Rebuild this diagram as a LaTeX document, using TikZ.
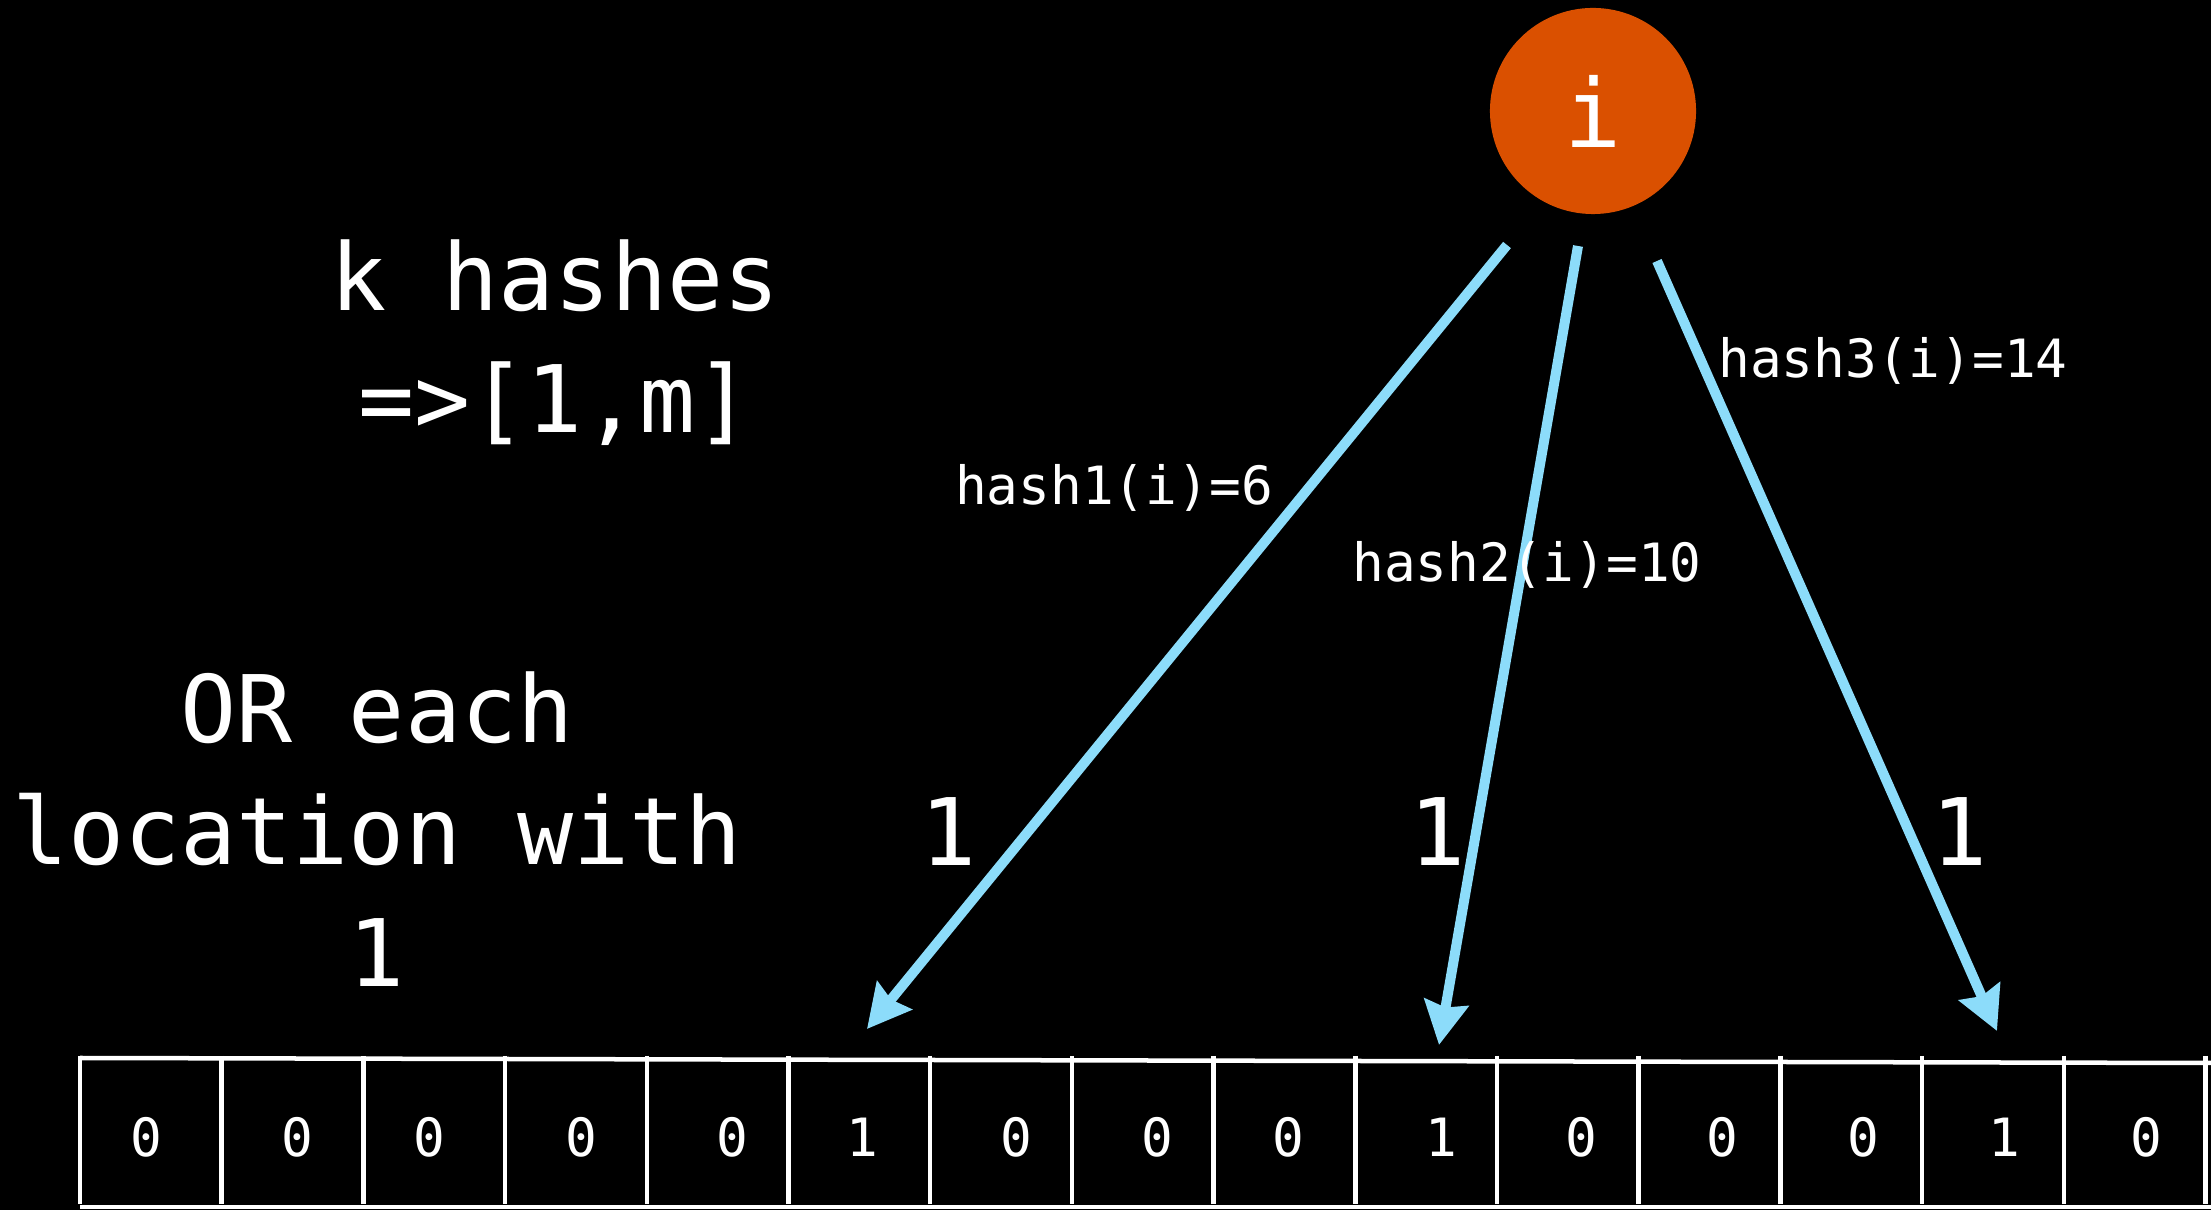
\documentclass[tikz,border=0pt]{standalone}
\usepackage{fontspec}
\setmonofont{DejaVu Sans Mono}
\usetikzlibrary{arrows.meta}
\definecolor{nodeorange}{RGB}{218,80,0}
\definecolor{arrowblue}{RGB}{140,220,250}
\begin{document}
\begin{tikzpicture}[x=0.01cm,y=-0.01cm,
  bigtext/.style={text=white,font=\ttfamily\fontsize{26.5}{34.8}\selectfont,inner sep=0pt},
  smalltext/.style={text=white,font=\ttfamily\fontsize{15}{18}\selectfont,inner sep=0pt},
  hasharrow/.style={draw=arrowblue,line width=0.1cm,-{Stealth[length=0.43cm,width=0.44cm,inset=0.05cm]}},
  gridline/.style={draw=white,line width=0.045cm}]
\fill[black] (0,0) rectangle (2211,1210);
\useasboundingbox (0,0) rectangle (2211,1210);

% item node
\node[circle,fill=nodeorange,minimum size=2.06cm,inner sep=0pt,text=white,
      font=\ttfamily\fontsize{27}{30}\selectfont] (item) at (1593,111) {i};

% left texts (base anchor = baseline of the last line)
\node[bigtext,align=center,anchor=base] (khash) at (555,433) {k hashes\\=>[1,m]};
\node[bigtext,align=center,anchor=base] (orloc) at (377,987) {OR each\\location with\\1};

% ones above the array
\node[bigtext,anchor=base] (one1) at (949,866) {1};
\node[bigtext,anchor=base] (one2) at (1438,866) {1};
\node[bigtext,anchor=base] (one3) at (1960,866) {1};

% array
\draw[gridline] (80,1058) -- (2211,1063);
\draw[gridline] (80,1207) -- (2211,1207);
\foreach \k in {0,...,15}{
  \draw[gridline] ({80+141.7*\k},1056) -- ({80+141.7*\k},1204);
}
\foreach \x/\v [count=\n] in {146/0,297/0,429/0,581/0,732/0,862/1,1016/0,1157/0,1288/0,1441/1,1581/0,1722/0,1863/0,2004/1,2146/0}{
  \node[smalltext,anchor=base] (c\n) at (\x,1157) {\v};
}

% arrows
\coordinate (s1) at (1507,245);
\coordinate (s2) at (1578,246);
\coordinate (s3) at (1657,261);
\coordinate (t1) at (867,1029);
\coordinate (t2) at (1439,1045);
\coordinate (t3) at (1997,1031);
\draw[hasharrow] (s1) -- (t1);
\draw[hasharrow] (s2) -- (t2);
\draw[hasharrow] (s3) -- (t3);

% hash labels
\node[smalltext,anchor=base] (h1) at (1114,505) {hash1(i)=6};
\node[smalltext,anchor=base] (h2) at (1527,582) {hash2(i)=10};
\node[smalltext,anchor=base] (h3) at (1893,378) {hash3(i)=14};
\end{tikzpicture}
\end{document}
